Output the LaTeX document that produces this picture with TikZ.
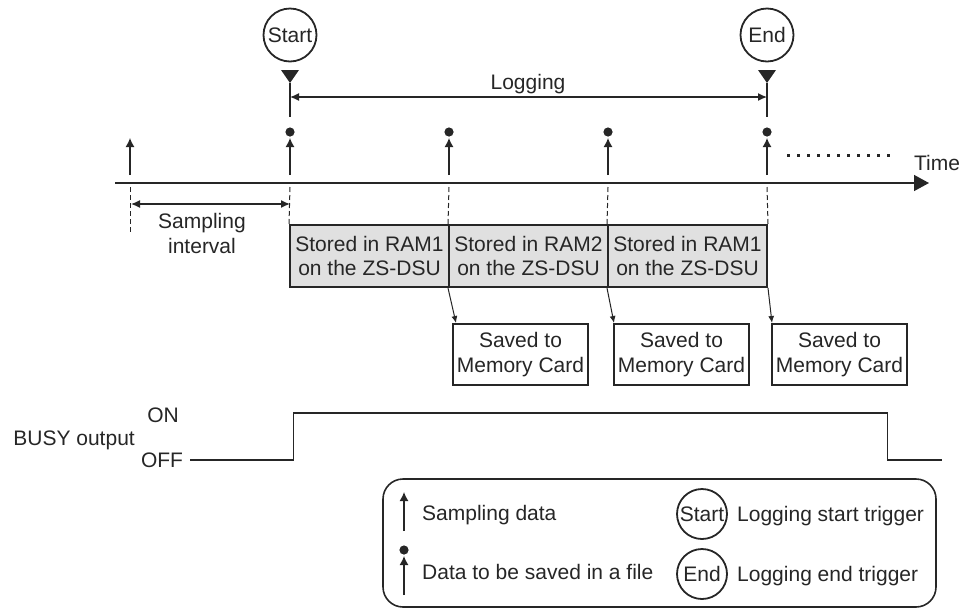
\documentclass[tikz,border=0pt]{standalone}
\usepackage{fontspec}
\setmainfont{Liberation Sans}
\usetikzlibrary{arrows.meta}
\definecolor{ink}{HTML}{262626}
\definecolor{ramfill}{HTML}{E0E0E0}
\begin{document}
\begin{tikzpicture}[x=1pt,y=-1pt,
  txt/.style={font=\fontsize{21}{24.5}\selectfont, text=ink, inner sep=0pt},
  trig/.style={circle, draw=ink, line width=1.8pt, minimum size=53pt, inner sep=0pt, font=\fontsize{21}{24}\selectfont, text=ink},
  rambox/.style={draw=ink, line width=2pt, fill=ramfill, minimum width=159pt, minimum height=62pt, inner sep=0pt, align=center, font=\fontsize{21}{24}\selectfont, text=ink},
  savebox/.style={draw=ink, line width=2pt, fill=white, minimum width=135pt, minimum height=61pt, inner sep=0pt, align=center, font=\fontsize{21}{25}\selectfont, text=ink},
  line/.style={draw=ink, line width=1.3pt},
  samp/.style={line, -{Latex[length=9pt,width=9pt]}},
  dbl/.style={line, {Latex[length=9pt,width=8pt]}-{Latex[length=9pt,width=8pt]}},
  dsh/.style={draw=ink, line width=1pt, dash pattern=on 5pt off 3pt},
  feed/.style={draw=ink, line width=1pt, -{Latex[length=7pt,width=6pt]}},
]
\useasboundingbox (0,0) rectangle (966,614);

% triggers
\node[trig] (st) at (290,35) {Start};
\node[trig] (en) at (767,35) {End};
\coordinate (stm) at (290,83);
\coordinate (enm) at (767,83);
\fill[ink] (281,70) -- (299,70) -- (stm) -- cycle;
\fill[ink] (758,70) -- (776,70) -- (enm) -- cycle;
\coordinate (stl) at (290,117);
\coordinate (enl) at (767,117);
\draw[line] (stm) -- (stl);
\draw[line] (enm) -- (enl);
\coordinate (lga) at (290,97);
\coordinate (lgb) at (767,97);
\draw[dbl] (lga) -- (lgb);
\node[txt, anchor=base] (logl) at (528,89) {Logging};

% time axis
\coordinate (ax0) at (115,183);
\coordinate (ax1) at (929,183);
\draw[line, line width=1.5pt, -{Triangle[length=15pt,width=16pt]}] (ax0) -- (ax1);
\node[txt, anchor=base] (time) at (937,170) {Time};
\coordinate (dt0) at (787,155);
\coordinate (dt1) at (895,155);
\draw[ink, line width=3pt, dash pattern=on 3pt off 7pt] (dt0) -- (dt1);

% RAM boxes
\node[rambox] (r1) at (369.5,256) {Stored in RAM1\\on the ZS-DSU};
\node[rambox] (r2) at (528.5,256) {Stored in RAM2\\on the ZS-DSU};
\node[rambox] (r3) at (687.5,256) {Stored in RAM1\\on the ZS-DSU};

% sampling arrows and dashed guides
\foreach \n/\x in {a/130,b/290,c/449,d/608,e/767}{
  \coordinate (s\n0) at (\x,175);
  \coordinate (s\n1) at (\x,138);
  \draw[samp] (s\n0) -- (s\n1);
}
\foreach \n/\x in {b/290,c/449,d/608,e/767}{
  \fill[ink] (\x,132) circle (4.6pt);
}
\coordinate (ga) at (130,187);
\coordinate (gae) at (130,234);
\draw[dsh] (ga) -- (gae);
\draw[dsh] (290,187) -- (r1.north west);
\draw[dsh] (449,187) -- (r2.north west);
\draw[dsh] (608,187) -- (r3.north west);
\draw[dsh] (767,187) -- (r3.north east);

% sampling interval
\coordinate (si0) at (131,204);
\coordinate (si1) at (290,204);
\draw[dbl] (si0) -- (si1);
\node[txt, align=center, anchor=base] (sil) at (202,253) {Sampling\\interval};

% saved boxes
\node[savebox] (s1) at (520.5,354.5) {Saved to\\Memory Card};
\node[savebox] (s2) at (681.5,354.5) {Saved to\\Memory Card};
\node[savebox] (s3) at (839.5,354.5) {Saved to\\Memory Card};
\draw[feed] (r2.south west) -- ([xshift=4pt]s1.north west);
\draw[feed] (r3.south west) -- ([xshift=1pt]s2.north west);
\draw[feed] (r3.south east) -- ([xshift=1pt]s3.north west);

% BUSY output
\node[txt, anchor=base] (on) at (163,422) {ON};
\node[txt, anchor=base] (off) at (162,467) {OFF};
\node[txt, anchor=base east] (busy) at (135,445) {BUSY output};
\draw[line] ([xshift=7pt,yshift=7pt]off.base east) -- ++(103,0) -- ++(0,-47) -- ++(594,0) -- ++(0,47) -- ++(55,0);

% legend
\node[draw=ink, line width=1.6pt, rounded corners=20pt, minimum width=553pt, minimum height=128pt, inner sep=0pt] (leg) at (659.5,543) {};
\coordinate (la0) at (404,531);
\coordinate (la1) at (404,492);
\draw[samp] (la0) -- (la1);
\node[txt, anchor=base west] (lsd) at (422,520) {Sampling data};
\fill[ink] (404,550) circle (4.6pt);
\coordinate (lb0) at (404,595);
\coordinate (lb1) at (404,556);
\draw[samp] (lb0) -- (lb1);
\node[txt, anchor=base west] (ldf) at (422,579) {Data to be saved in a file};
\node[trig, minimum size=50pt] (ls) at (702,514) {Start};
\node[txt, anchor=base west] (lst) at (737,521) {Logging start trigger};
\node[trig, minimum size=50pt] (le) at (702,574) {End};
\node[txt, anchor=base west] (let) at (737,581) {Logging end trigger};
\end{tikzpicture}
\end{document}
